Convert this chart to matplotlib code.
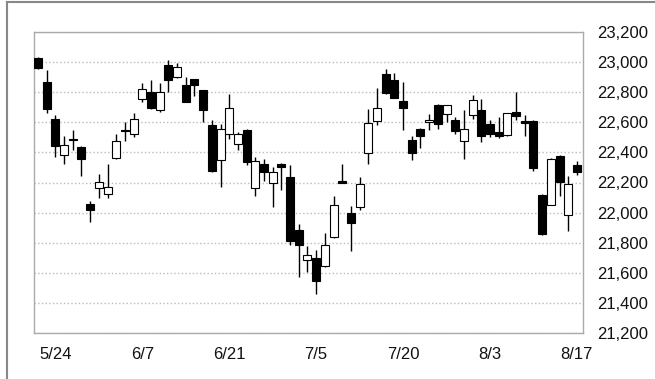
import numpy as np
from matplotlib import pyplot as plt
from matplotlib.lines import Line2D

# daily candles (open / high / low / close)
dates = ['5/22', '5/23', '5/24', '5/25', '5/28', '5/29', '5/30', '5/31', '6/1',
         '6/4', '6/5', '6/6', '6/7', '6/8', '6/11', '6/12', '6/13', '6/14', '6/15',
         '6/18', '6/19', '6/20', '6/21', '6/22', '6/25', '6/26', '6/27', '6/28', '6/29',
         '7/2', '7/3', '7/4', '7/5', '7/6', '7/9', '7/10', '7/11', '7/12', '7/13',
         '7/17', '7/18', '7/19', '7/20', '7/23', '7/24', '7/25', '7/26', '7/27',
         '7/30', '7/31', '8/1', '8/2', '8/3', '8/6', '8/7', '8/8', '8/9', '8/10',
         '8/13', '8/14', '8/15', '8/16', '8/17']
opens = [23030, 22870, 22625, 22385, 22490, 22435, 22055, 22165, 22124,
         22365, 22548, 22525, 22752, 22800, 22685, 22980, 22898, 22845, 22885,
         22813, 22580, 22351, 22524, 22458, 22547, 22162, 22324, 22200, 22320,
         22236, 21887, 21682, 21697, 21647, 21835, 22213, 22000, 22040, 22395,
         22610, 22920, 22880, 22742, 22484, 22558, 22600, 22713, 22653,
         22618, 22476, 22647, 22680, 22587, 22536, 22518, 22669, 22600, 22609,
         22120, 22053, 22373, 21985, 22318]
highs = [23035, 22950, 22650, 22510, 22550, 22440, 22080, 22255, 22320,
         22520, 22600, 22665, 22858, 22880, 22858, 23013, 22995, 22898, 22890,
         22815, 22618, 22587, 22785, 22535, 22558, 22368, 22358, 22302, 22330,
         22313, 21924, 21780, 21752, 21862, 22107, 22320, 22047, 22235, 22691,
         22831, 22951, 22930, 22869, 22507, 22565, 22658, 22720, 22715,
         22636, 22680, 22780, 22758, 22618, 22636, 22665, 22802, 22647, 22612,
         22125, 22360, 22380, 22240, 22340]
lows = [22955, 22660, 22370, 22325, 22415, 22240, 21935, 22100, 22100,
        22358, 22475, 22502, 22735, 22690, 22670, 22802, 22895, 22735, 22773,
        22602, 22270, 22168, 22491, 22413, 22313, 22107, 22209, 22040, 22151,
        21787, 21573, 21602, 21462, 21640, 21831, 22196, 21747, 22017, 22320,
        22580, 22790, 22760, 22547, 22347, 22427, 22551, 22558, 22602,
        22524, 22358, 22625, 22469, 22502, 22498, 22510, 22618, 22507, 22276,
        21850, 22050, 22113, 21875, 22253]
closes = [22960, 22690, 22440, 22450, 22482, 22358, 22018, 22202, 22171,
          22475, 22539, 22625, 22823, 22694, 22804, 22878, 22966, 22738, 22851,
          22680, 22278, 22555, 22693, 22520, 22338, 22342, 22271, 22270, 22304,
          21811, 21785, 21717, 21546, 21788, 22052, 22196, 21932, 22187, 22597,
          22697, 22794, 22764, 22697, 22396, 22510, 22614, 22586, 22712,
          22544, 22553, 22746, 22512, 22525, 22507, 22662, 22644, 22598, 22298,
          21857, 22356, 22204, 22192, 22270]
tick_dates = ['5/24', '6/7', '6/21', '7/5', '7/20', '8/3', '8/17']
y_ticks = [21200, 21400, 21600, 21800, 22000, 22200, 22400, 22600, 22800, 23000, 23200]

plt.rcParams['font.family'] = ['Liberation Sans', 'DejaVu Sans']

o = np.array(opens)
c = np.array(closes)
x = np.arange(len(dates))
up = c >= o

fig = plt.figure(figsize=(6.55, 3.79), dpi=100)
ax = fig.add_axes([34 / 655, 46 / 379, 549 / 655, 301 / 379])

# wicks first, bodies on top
ax.vlines(x, lows, highs, color='black', linewidth=1, zorder=2)
body = np.maximum(np.abs(c - o), 8)
bottom = np.minimum(o, c)
ax.bar(x, body, bottom=bottom, width=0.92,
       color=np.where(up, 'white', 'black'), edgecolor='black', linewidth=0.8, zorder=3)

ax.set_xlim(-0.46, len(dates) - 0.3)
ax.set_ylim(21200, 23200)
ax.set_yticks(y_ticks)
ax.set_yticklabels([f'{v:,}' for v in y_ticks])
ax.yaxis.tick_right()
ax.set_xticks([dates.index(d) for d in tick_dates])
ax.set_xticklabels(tick_dates)
ax.tick_params(length=0, labelsize=12, colors='#111111')
ax.tick_params(axis='y', pad=10.5)
ax.tick_params(axis='x', pad=10)
ax.grid(axis='y', linestyle=':', color='#bbbbbb', linewidth=1, zorder=0)
ax.set_axisbelow(True)
for s in ax.spines.values():
    s.set_color('#aaaaaa')
    s.set_linewidth(1)

# outer panel border
fig.add_artist(Line2D([7 / 655, 1], [1 - 2 / 379, 1 - 2 / 379], color='#888888', linewidth=1.5))
fig.add_artist(Line2D([7 / 655, 7 / 655], [0, 1 - 2 / 379], color='#888888', linewidth=1.5))

fig.savefig('out.png', dpi=100)
